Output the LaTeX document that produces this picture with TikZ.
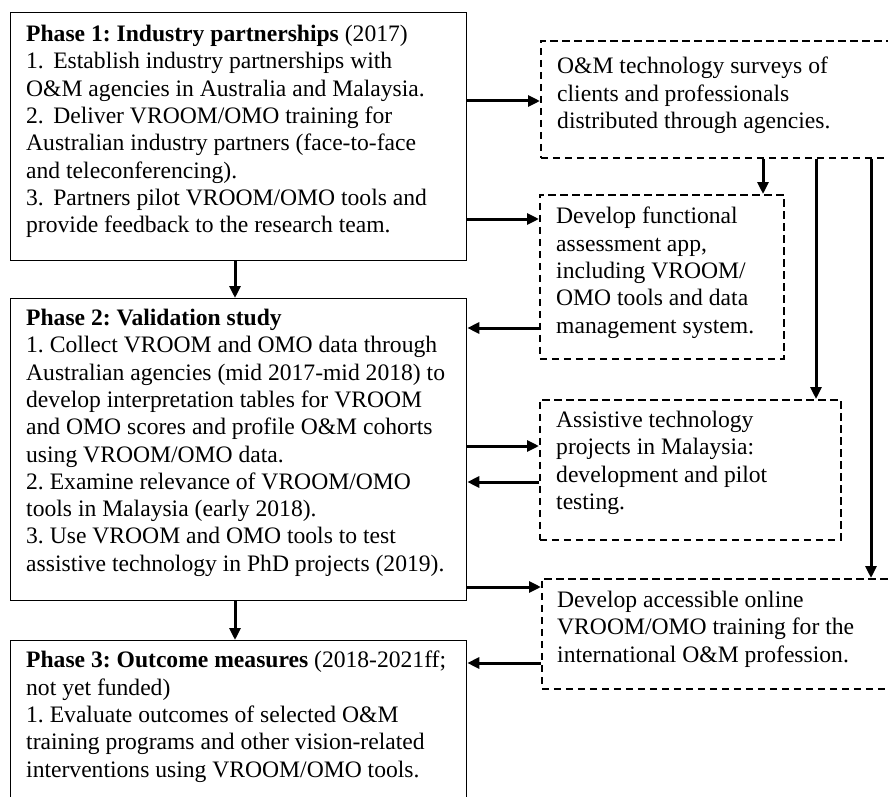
\documentclass[tikz,border=0pt]{standalone}
\usepackage{fontspec}
\setmainfont{Liberation Serif}
\usetikzlibrary{arrows.meta}
\frenchspacing
\begin{document}
\begin{tikzpicture}[x=1pt,y=-1pt,
  solidbox/.style={draw, line width=1.3pt, rectangle, inner sep=0pt, anchor=north west},
  dashbox/.style={draw, line width=1.6pt, dash pattern=on 7.5pt off 4.5pt, rectangle, inner sep=0pt, anchor=north west},
  txt/.style={anchor=north west, inner sep=0pt, align=left, font=\fontsize{23.6}{27.3}\selectfont},
  arr/.style={line width=3pt, -{Triangle[length=12pt,width=11pt]}}]
\clip (0,0) rectangle (888,797);
\fill[white] (0,0) rectangle (888,797);
% phase boxes
\node[solidbox, minimum width=456pt, minimum height=248pt] (p1) at (10,12) {};
\node[solidbox, minimum width=456pt, minimum height=302pt] (p2) at (10,298) {};
\node[solidbox, minimum width=456pt, minimum height=200pt] (p3) at (10,640) {};
% dashed boxes
\node[dashbox, minimum width=400pt, minimum height=117pt] (b1) at (540,40) {};
\node[dashbox, minimum width=244pt, minimum height=164pt] (b2) at (539,194) {};
\node[dashbox, minimum width=301pt, minimum height=140pt] (b3) at (539,399) {};
\node[dashbox, minimum width=400pt, minimum height=110pt] (b4) at (541,578) {};
% texts
\node[txt] (t1) at (26,25) {\textbf{Phase 1: Industry partnerships} (2017)\\
1.\hspace{0.4em}Establish industry partnerships with\\
O\&M agencies in Australia and Malaysia.\\
2.\hspace{0.4em}Deliver VROOM/OMO training for\\
Australian industry partners (face-to-face\\
and teleconferencing).\\
3.\hspace{0.4em}Partners pilot VROOM/OMO tools and\\
provide feedback to the research team.};
\node[txt] (t2) at (26,309) {\textbf{Phase 2: Validation study}\\
1. Collect VROOM and OMO data through\\
Australian agencies (mid 2017-mid 2018) to\\
develop interpretation tables for VROOM\\
and OMO scores and profile O\&M cohorts\\
using VROOM/OMO data.\\
2. Examine relevance of VROOM/OMO\\
tools in Malaysia (early 2018).\\
3. Use VROOM and OMO tools to test\\
assistive technology in PhD projects (2019).};
\node[txt] (t3) at (26,651) {\textbf{Phase 3: Outcome measures} (2018-2021ff;\\
not yet funded)\\
1. Evaluate outcomes of selected O\&M\\
training programs and other vision-related\\
interventions using VROOM/OMO tools.};
\node[txt] (u1) at (557,57) {O\&M technology surveys of\\
clients and professionals\\
distributed through agencies.};
\node[txt] (u2) at (556,207) {Develop functional\\
assessment app,\\
including VROOM/\\
OMO tools and data\\
management system.};
\node[txt] (u3) at (556,411) {Assistive technology\\
projects in Malaysia:\\
development and pilot\\
testing.};
\node[txt] (u4) at (557,591) {Develop accessible online\\
VROOM/OMO training for the\\
international O\&M profession.};
% arrows
\draw[arr] (p1.east|-0,101) -- (b1.west|-0,101);
\draw[arr] (p1.east|-0,219) -- (b2.west|-0,219);
\draw[arr] (b2.west|-0,328) -- (p2.east|-0,328);
\draw[arr] (p2.east|-0,446) -- (b3.west|-0,446);
\draw[arr] (b3.west|-0,482) -- (p2.east|-0,482);
\draw[arr] (p2.east|-0,587) -- (b4.west|-0,587);
\draw[arr] (b4.west|-0,663) -- (p3.east|-0,663);
\draw[arr] (b1.south-|763,0) -- (b2.north-|763,0);
\draw[arr] (b1.south-|816,0) -- (b3.north-|816,0);
\draw[arr] (b1.south-|871,0) -- (b4.north-|871,0);
\draw[arr] (p1.south-|235,0) -- (p2.north-|235,0);
\draw[arr] (p2.south-|235,0) -- (p3.north-|235,0);
\end{tikzpicture}
\end{document}
